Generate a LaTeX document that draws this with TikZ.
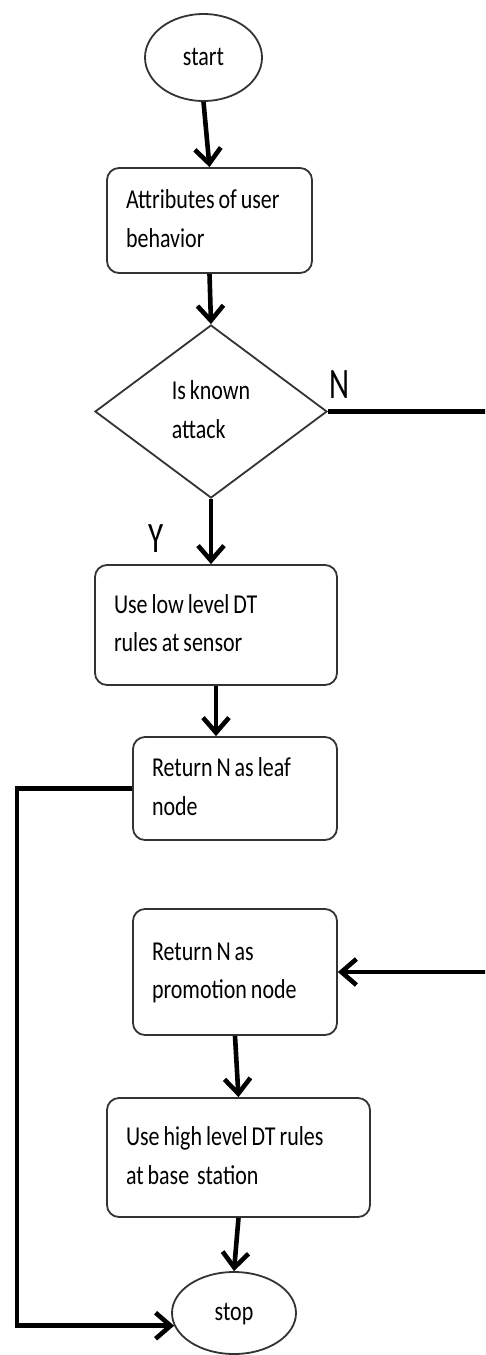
\documentclass[tikz,border=0pt]{standalone}
\usepackage{fontspec}
\setmainfont{Carlito}
\usepackage{graphicx}
\usetikzlibrary{shapes.geometric,arrows.meta}

% text inside the flowchart boxes (tight word spacing)
\newcommand\boxfont{\fontsize{22}{31}\selectfont}
\newcommand\tallrows[1]{\spaceskip=0.18em\relax\scalebox{1}[1.24]{\begin{tabular}{@{}l@{}}#1\end{tabular}}}

\begin{document}
\begin{tikzpicture}[x=1pt,y=1pt,
  outline/.style={draw=black!80, line width=1.8pt},
  proc/.style={outline, rounded corners=12pt, align=left, inner xsep=19pt, inner ysep=0pt, font=\boxfont},
  term/.style={outline, ellipse, inner sep=0pt, font=\boxfont},
  decision/.style={outline, diamond, inner sep=0pt, align=left, font=\boxfont},
  flow/.style={line width=4.6pt, -{Straight Barb[length=15pt,width=26pt]}},
  branch/.style={font=\fontsize{31}{31}\selectfont, inner sep=0pt}]

\useasboundingbox (0,0) rectangle (485,-1355);
\fill[white] (0,0) rectangle (485,-1355);

\begin{scope}
\clip (0,0) rectangle (485,-1355);

% terminals, steps and the decision
\node[term, minimum width=117pt, minimum height=87pt] (start) at (203.5,-57.5) {\tallrows{start}};
\node[proc, text width=167pt, minimum height=105pt] (attr) at (209.5,-220.5) {\tallrows{Attributes of user\\behavior}};
\node[decision, minimum width=232pt, minimum height=173pt] (dec) at (211,-411.5) {\tallrows{Is known\\attack}};
\node[proc, text width=204pt, minimum height=120pt] (low) at (216,-625) {\tallrows{Use low level DT\\rules at sensor}};
\node[proc, text width=166pt, minimum height=103pt] (leaf) at (235,-788.5) {\tallrows{Return N as leaf\\node}};
\node[proc, text width=166pt, minimum height=126pt] (promo) at (235,-972) {\tallrows{Return N as\\promotion node}};
\node[proc, text width=225pt, minimum height=119pt] (high) at (238.5,-1157.5) {\tallrows{Use high level DT rules\\at base\ \ station}};
\node[term, minimum width=124pt, minimum height=82pt] (stop) at (234,-1313) {\tallrows{stop}};

% branch labels
\node[branch] (nlab) at (340,-385) {\scalebox{1}[1.4]{N}};
\node[branch] (ylab) at (156,-539) {\scalebox{1}[1.4]{Y}};

% bend points of the two side routes
\coordinate (leftrail) at (17,0);
\coordinate (rightrail) at (500,0);

% connectors
\draw[flow] (start.south) -- (attr.north);
\draw[flow] (attr.south) -- (dec.north);
\draw[flow] (dec.south) -- (dec.south |- low.north);
\draw[flow] (low.south) -- (low.south |- leaf.north);
\draw[flow] (dec.east) -- (dec.east -| rightrail) |- (promo.east);
\draw[flow] (leaf.west) -- (leaf.west -| leftrail) |- (stop.192);
\draw[flow] (promo.south) -- (high.north);
\draw[flow] (high.south) -- (stop.north);
\end{scope}
\end{tikzpicture}
\end{document}
